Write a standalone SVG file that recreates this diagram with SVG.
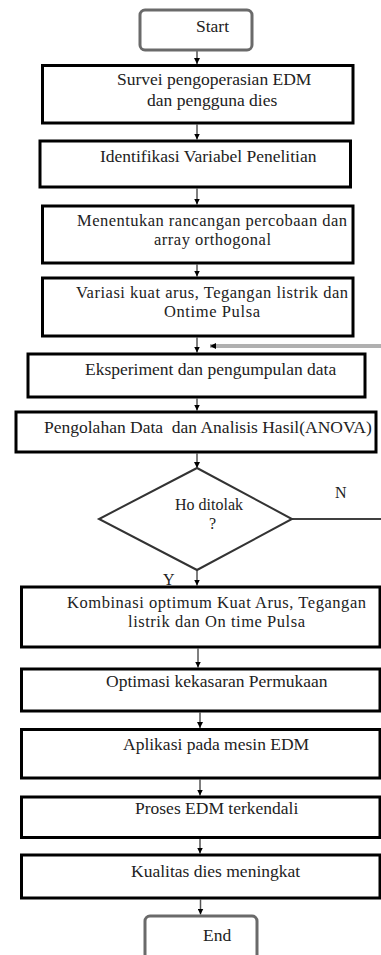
<svg xmlns="http://www.w3.org/2000/svg" width="381" height="955" viewBox="0 0 381 955">
<style>
.box{fill:#fff;stroke:#000;stroke-width:3}
.term{fill:#fff;stroke:#6a6a6a;stroke-width:3}
.dia{fill:#fff;stroke:#333;stroke-width:2}
.t{font-family:"Liberation Serif","Times New Roman",serif;font-size:17.5px;fill:#222}
.t2{font-size:16.5px}
.c{stroke:#555;stroke-width:1.5;fill:none}
</style>
<defs>
<marker id="ah" markerUnits="userSpaceOnUse" markerWidth="6" markerHeight="6" refX="6" refY="3" orient="auto">
<path d="M0,0 L6,3 L0,6 z" fill="#000"/>
</marker>
</defs>
<rect width="381" height="955" fill="#fff"/>
<g id="connectors">
<line class="c" x1="197" y1="51" x2="197" y2="64" marker-end="url(#ah)"/>
<line class="c" x1="197" y1="124.5" x2="197" y2="139.5" marker-end="url(#ah)"/>
<line class="c" x1="197" y1="188.5" x2="197" y2="204.5" marker-end="url(#ah)"/>
<line class="c" x1="197" y1="264.5" x2="197" y2="276.5" marker-end="url(#ah)"/>
<line class="c" x1="197" y1="337.5" x2="197" y2="352.5" marker-end="url(#ah)"/>
<line class="c" x1="197" y1="398.5" x2="197" y2="410.5" marker-end="url(#ah)"/>
<line class="c" x1="197" y1="453.5" x2="197" y2="468" marker-end="url(#ah)"/>
<line class="c" x1="197" y1="570" x2="197" y2="585.5" marker-end="url(#ah)"/>
<line class="c" x1="198" y1="648.5" x2="198" y2="667.5" marker-end="url(#ah)"/>
<line class="c" x1="200" y1="712.5" x2="200" y2="728" marker-end="url(#ah)"/>
<line class="c" x1="200" y1="779.5" x2="200" y2="795.5" marker-end="url(#ah)"/>
<line class="c" x1="200" y1="839" x2="200" y2="853.5" marker-end="url(#ah)"/>
<line class="c" x1="200.5" y1="899.5" x2="200.5" y2="914.5" marker-end="url(#ah)"/>
<line x1="292" y1="519" x2="381" y2="519" stroke="#000" stroke-width="1.5"/>
<line x1="381" y1="346" x2="210" y2="346" stroke="#b0b0b0" stroke-width="4" marker-end="url(#ah)"/>
<text class="t" x="335" y="498" style="font-size:16px">N</text>
<text class="t" x="163" y="585" style="font-size:16px">Y</text>
</g>
<g id="start">
<rect class="term" x="140" y="10" width="112" height="40" rx="5"/>
<text class="t" x="196" y="32">Start</text>
</g>
<g id="survei">
<rect class="box" x="42.5" y="65.5" width="310.5" height="57.5"/>
<text class="t" x="117" y="85">Survei pengoperasian EDM</text>
<text class="t" x="147" y="106">dan pengguna dies</text>
</g>
<g id="identifikasi">
<rect class="box" x="40" y="141" width="310.5" height="46"/>
<text class="t" x="100" y="162">Identifikasi Variabel Penelitian</text>
</g>
<g id="menentukan">
<rect class="box" x="42.5" y="206" width="310.5" height="57"/>
<text class="t t2" x="77" y="226" textLength="270" lengthAdjust="spacing">Menentukan rancangan percobaan dan</text>
<text class="t t2" x="154" y="244.5" textLength="117" lengthAdjust="spacing">array orthogonal</text>
</g>
<g id="variasi">
<rect class="box" x="42.5" y="278" width="310.5" height="58"/>
<text class="t t2" x="76" y="298" textLength="272" lengthAdjust="spacing">Variasi kuat arus, Tegangan listrik dan</text>
<text class="t t2" x="164" y="316.5" textLength="96" lengthAdjust="spacing">Ontime Pulsa</text>
</g>
<g id="eksperiment">
<rect class="box" x="28" y="354" width="337" height="43"/>
<text class="t" x="85" y="375">Eksperiment dan pengumpulan data</text>
</g>
<g id="pengolahan">
<rect class="box" x="16" y="412" width="360" height="40"/>
<text class="t" x="44" y="433" xml:space="preserve">Pengolahan Data  dan Analisis Hasil(ANOVA)</text>
</g>
<g id="keputusan">
<polygon class="dia" points="197,468 292,519 197,570 99,519"/>
<text class="t" x="175" y="510" style="font-size:16px">Ho ditolak</text>
<text class="t" x="209" y="529" style="font-size:16px">?</text>
</g>
<g id="kombinasi">
<rect class="box" x="21.5" y="587" width="358.5" height="60"/>
<text class="t t2" x="67" y="608" textLength="299" lengthAdjust="spacing">Kombinasi optimum Kuat Arus, Tegangan</text>
<text class="t t2" x="128" y="626.5" textLength="177" lengthAdjust="spacing">listrik dan On time Pulsa</text>
</g>
<g id="optimasi">
<rect class="box" x="21.5" y="669" width="358.5" height="42"/>
<text class="t" x="106" y="687">Optimasi kekasaran Permukaan</text>
</g>
<g id="aplikasi">
<rect class="box" x="21.5" y="729.5" width="358.5" height="48.5"/>
<text class="t" x="123" y="750">Aplikasi pada mesin EDM</text>
</g>
<g id="proses">
<rect class="box" x="21.5" y="797" width="358.5" height="40.5"/>
<text class="t" x="135" y="814">Proses EDM terkendali</text>
</g>
<g id="kualitas">
<rect class="box" x="21.5" y="855" width="358.5" height="43"/>
<text class="t" x="131" y="877">Kualitas dies meningkat</text>
</g>
<g id="end">
<rect class="term" x="145" y="916" width="112" height="50" rx="5"/>
<text class="t" x="203" y="941">End</text>
</g>
</svg>
